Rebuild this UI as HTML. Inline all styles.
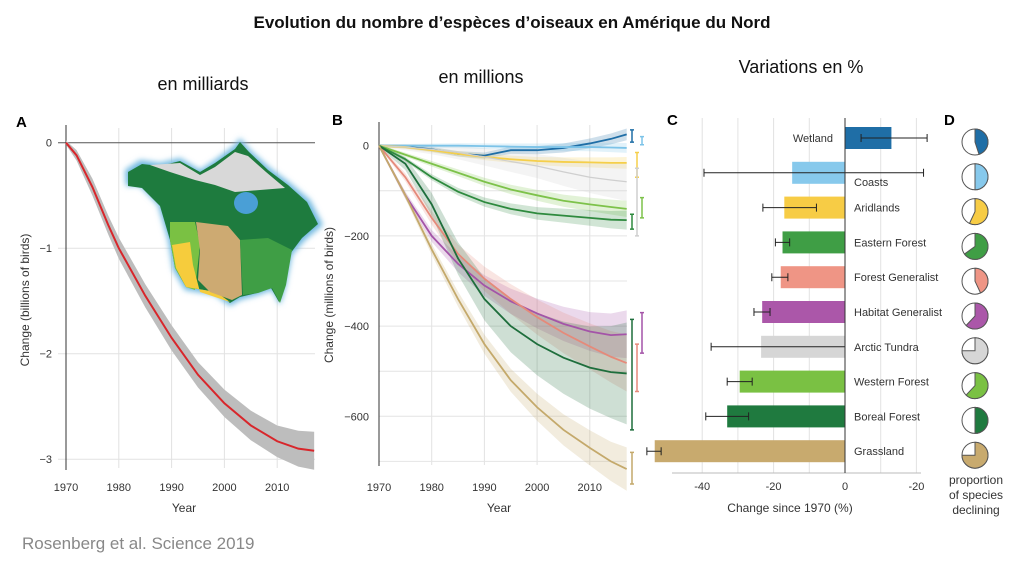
<!DOCTYPE html>
<html><head><meta charset="utf-8">
<style>
html,body{margin:0;padding:0;background:#fff;}
body{width:1024px;height:565px;overflow:hidden;font-family:"Liberation Sans",sans-serif;}
svg text{font-family:"Liberation Sans",sans-serif;}
</style></head>
<body>
<svg id="fig" width="1024" height="565" viewBox="0 0 1024 565" xmlns="http://www.w3.org/2000/svg">
<text x="512" y="28" text-anchor="middle" font-size="17" font-weight="bold" fill="#111">Evolution du nombre d’espèces d’oiseaux en Amérique du Nord</text>
<text x="203" y="90" text-anchor="middle" font-size="18" fill="#111">en milliards</text>
<text x="481" y="83" text-anchor="middle" font-size="18" fill="#111">en millions</text>
<text x="801" y="73" text-anchor="middle" font-size="18" fill="#111">Variations en %</text>
<text x="22" y="549" font-size="17" fill="#888">Rosenberg et al. Science 2019</text>
<text x="16" y="127" font-size="15" font-weight="bold">A</text>
<text x="332" y="125" font-size="15" font-weight="bold">B</text>
<text x="667" y="125" font-size="15" font-weight="bold">C</text>
<text x="944" y="125" font-size="15" font-weight="bold">D</text>
<g id="pa"></g>
<g id="map">
  <defs><filter id="glow"><feGaussianBlur stdDeviation="3"/></filter></defs>
  <path d="M125,170 L140,160 L160,163 L180,158 L200,170 L215,160 L235,145 L240,138 L250,150 L270,168 L290,183 L310,200 L323,225 L305,240 L292,255 L286,285 L280,305 L272,290 L258,295 L240,300 L230,306 L215,295 L185,290 L173,270 L168,240 L158,205 L140,186 L126,186 Z" fill="#6fb8e0" filter="url(#glow)"/>
  <path d="M128,172 L142,164 L160,166 L180,161 L200,172 L215,163 L235,149 L240,142 L249,152 L268,170 L288,185 L307,202 L318,224 L302,238 L290,254 L284,284 L279,302 L271,288 L257,293 L240,297 L230,303 L216,292 L186,287 L175,268 L170,240 L160,206 L142,188 L128,186 Z" fill="#1e7b3e"/>
  <path d="M150,165 L180,163 L200,175 L215,167 L235,152 L248,156 L266,172 L285,188 L260,190 L235,192 L215,185 L195,180 L170,172 Z" fill="#d8d8d8"/>
  <ellipse cx="246" cy="203" rx="12" ry="11" fill="#4a9fd6"/>
  <path d="M170,222 L195,222 L200,245 L195,290 L186,287 L175,268 L170,240 Z" fill="#7ac143"/>
  <path d="M172,245 L190,242 L193,265 L200,292 L230,302 L216,292 L186,287 L176,268 Z" fill="#f6cc3c"/>
  <path d="M196,222 L228,226 L240,240 L242,295 L232,300 L210,292 L198,280 L200,250 Z" fill="#cdaa72"/>
  <path d="M240,240 L268,238 L292,250 L286,285 L280,303 L272,288 L258,293 L243,295 Z" fill="#3f9e45"/>
</g>
<g id="pb"></g>
<g id="pc"></g>
<g id="pd"></g>
<text x="976" y="484" text-anchor="middle" font-size="12" fill="#333">proportion</text>
<text x="976" y="499" text-anchor="middle" font-size="12" fill="#333">of species</text>
<text x="976" y="514" text-anchor="middle" font-size="12" fill="#333">declining</text>
</svg>
<script>
const NS="http://www.w3.org/2000/svg";
// ---- Panel A data
const aYears=[1970,1972,1975,1978,1980,1985,1990,1995,2000,2005,2010,2014,2017];
const aValues=[0,-0.12,-0.42,-0.78,-1.0,-1.45,-1.85,-2.2,-2.47,-2.68,-2.83,-2.9,-2.92];
const aBand=[0.02,0.05,0.08,0.09,0.1,0.11,0.12,0.12,0.13,0.14,0.15,0.17,0.18];
const aXTicks=[1970,1980,1990,2000,2010];
const aYTicks=[0,-1,-2,-3];
// ---- Panel B data
const bYears=[1970,1975,1980,1985,1990,1995,2000,2005,2010,2014,2017];
const bNames=["wetland","coasts","aridlands","arctic-tundra","western-forest","eastern-forest","habitat-generalist","forest-generalist","boreal-forest","grassland"];
const bColors=["#1f6ea6","#7cc3e8","#f5cf4a","#cfcfcf","#7dc24a","#2e8a3e","#a454a8","#e58a7a","#1e6e3c","#c4a96b"];
const bWetland=[0,-2,-8,-18,-22,-10,-10,-5,5,15,25];
const bCoasts=[0,0,0,0,-1,-2,-3,-3,-3,-4,-5];
const bArid=[0,-3,-10,-18,-25,-30,-34,-36,-37,-38,-38];
const bArctic=[0,-3,-8,-15,-25,-35,-45,-58,-70,-76,-80];
const bWestern=[0,-20,-40,-60,-80,-97,-110,-122,-130,-136,-140];
const bEastern=[0,-30,-70,-102,-125,-140,-150,-155,-160,-164,-165];
const bHabitat=[0,-110,-200,-262,-310,-345,-372,-395,-412,-420,-418];
const bForestGen=[0,-70,-160,-240,-295,-340,-380,-415,-445,-468,-482];
const bBoreal=[0,-40,-130,-250,-340,-400,-440,-470,-492,-502,-505];
const bGrass=[0,-110,-230,-340,-440,-520,-580,-630,-670,-700,-717];
const bSeries=[bWetland,bCoasts,bArid,bArctic,bWestern,bEastern,bHabitat,bForestGen,bBoreal,bGrass];
const bBandW=[10,8,10,40,15,18,50,60,110,45];
const bErrLo=[8,2,-15,-50,-115,-152,-370,-440,-385,-680];
const bErrHi=[35,20,-70,-200,-160,-185,-460,-545,-630,-750];
const bErrCol=[0,2,1,1,2,0,2,1,0,0];
const bXTicks=[1970,1980,1990,2000,2010];
const bYTicks=[0,-200,-400,-600];
// ---- Panel C data
const cCats=["Wetland","Coasts","Aridlands","Eastern Forest","Forest Generalist","Habitat Generalist","Arctic Tundra","Western Forest","Boreal Forest","Grassland"];
const cColors=["#1f6ea6","#87c9ec","#f7cc45","#3f9e45","#ef9585","#ab57a9","#d6d6d6","#7ac143","#1f7a3f","#c8aa6e"];
const cValues=[13,-14.8,-17,-17.5,-18,-23.2,-23.5,-29.5,-33,-53.3];
const cErrLo=[4.5,-39.5,-23,-19.5,-20.5,-25.5,-37.5,-33,-39,-55.5];
const cErrHi=[23,22,-8,-15.5,-16,-21,0,-26,-27,-51.5];
const cTickVals=[-40,-20,0,20];
const cTickLabels=["-40","-20","0","-20"];
// ---- Panel D data
const dFractions=[0.45,0.5,0.57,0.65,0.43,0.62,0.75,0.62,0.5,0.75];

function el(tag,attrs,parent,txt){const e=document.createElementNS(NS,tag);for(const k in attrs)e.setAttribute(k,attrs[k]);if(txt!==undefined)e.textContent=txt;parent.appendChild(e);return e;}

// Panel A
const pa=document.getElementById('pa');
const ax=y=>66+(y-1970)*5.28, ay=v=>142.7-v*105.5;
aXTicks.slice(1).forEach(t=>{const l=el('line',{x1:ax(t),x2:ax(t),y1:128,y2:468,stroke:'#e2e2e2','stroke-width':1},pa);});
aYTicks.slice(1).forEach(t=>{const l=el('line',{x1:58,x2:315,y1:ay(t),y2:ay(t),stroke:'#e2e2e2'},pa);});
{const l=el('line',{x1:58,x2:315,y1:ay(0),y2:ay(0),stroke:'#555'},pa);}
{const l=el('line',{x1:66,x2:66,y1:125,y2:470,stroke:'#333'},pa);}
{let up=aYears.map((y,i)=>ax(y)+','+ay(aValues[i]+aBand[i])),dn=aYears.map((y,i)=>ax(y)+','+ay(aValues[i]-aBand[i])).reverse();
const p=el('polygon',{points:up.concat(dn).join(' '),fill:'#bdbdbd'},pa);
const l=el('polyline',{points:aYears.map((y,i)=>ax(y)+','+ay(aValues[i])).join(' '),fill:'none',stroke:'#d8262b','stroke-width':2},pa);}
aXTicks.forEach(t=>{const e=el('text',{x:ax(t),y:491,'text-anchor':'middle','font-size':11,fill:'#333'},pa,t);});
aYTicks.forEach(t=>{const e=el('text',{x:52,y:ay(t)+4,'text-anchor':'end','font-size':11,fill:'#333'},pa,t===0?'0':'−'+(-t));});
{const e=el('text',{x:184,y:512,'text-anchor':'middle','font-size':12,fill:'#333'},pa,'Year');
const f=el('text',{x:0,y:0,'text-anchor':'middle','font-size':12,fill:'#333',transform:'translate(29,300) rotate(-90)'},pa,'Change (billions of birds)');}

// Panel B
const pb=document.getElementById('pb');
const bx=y=>379+(y-1970)*5.27, by=v=>145.7-v*0.451;
bXTicks.slice(1).forEach(t=>{const l=el('line',{x1:bx(t),x2:bx(t),y1:125,y2:465,stroke:'#e2e2e2'},pb);});
[-100,-200,-300,-400,-500,-600,-700].forEach(t=>{const l=el('line',{x1:379,x2:627,y1:by(t),y2:by(t),stroke:'#e4e4e4'},pb);});
{const l=el('line',{x1:379,x2:379,y1:122,y2:466,stroke:'#333'},pb);}
bSeries.forEach((s,k)=>{
  const w=bYears.map((y,i)=>bBandW[k]*(i/(bYears.length-1))+3);
  const up=bYears.map((y,i)=>bx(y)+','+by(s[i]+w[i])), dn=bYears.map((y,i)=>bx(y)+','+by(s[i]-w[i])).reverse();
  const p=el('polygon',{points:up.concat(dn).join(' '),fill:bColors[k],'fill-opacity':0.22},pb);
  
  
});
bSeries.forEach((s,k)=>{
  const l=el('polyline',{points:bYears.map((y,i)=>bx(y)+','+by(s[i])).join(' '),fill:'none',stroke:bColors[k],'stroke-width':k==3?1.2:1.8},pb);
  
  
  const ex=632+bErrCol[k]*5;
  const e=el('path',{d:`M${ex},${by(bErrLo[k])}V${by(bErrHi[k])}M${ex-2},${by(bErrLo[k])}h4M${ex-2},${by(bErrHi[k])}h4`,stroke:bColors[k],'stroke-width':1.5,fill:'none'},pb);
  
  
});
bXTicks.forEach(t=>{const e=el('text',{x:bx(t),y:491,'text-anchor':'middle','font-size':11,fill:'#333'},pb,t);});
bYTicks.forEach(t=>{const e=el('text',{x:369,y:by(t)+4,'text-anchor':'end','font-size':11,fill:'#333'},pb,t===0?'0':'−'+(-t));});
{const e=el('text',{x:499,y:512,'text-anchor':'middle','font-size':12,fill:'#333'},pb,'Year');
const f=el('text',{x:0,y:0,'text-anchor':'middle','font-size':12,fill:'#333',transform:'translate(333,295) rotate(-90)'},pb,'Change (millions of birds)');}

// Panel C
const pc=document.getElementById('pc');
const cx=v=>845+v*3.57, cy=i=>138+i*34.8;
[-40,-30,-20,-10,10,20].forEach(t=>{const l=el('line',{x1:cx(t),x2:cx(t),y1:118,y2:473,stroke:'#e2e2e2'},pc);});
{const l=el('line',{x1:672,x2:921,y1:473,y2:473,stroke:'#bbb'},pc);}
cCats.forEach((c,i)=>{
  const v=cValues[i],x0=Math.min(cx(0),cx(v));
  const r=el('rect',{x:x0,y:cy(i)-11,width:Math.abs(cx(v)-cx(0)),height:22,fill:cColors[i]},pc);
  
  
  const e=el('path',{d:`M${cx(cErrLo[i])},${cy(i)}H${cx(cErrHi[i])}M${cx(cErrLo[i])},${cy(i)-4}v8M${cx(cErrHi[i])},${cy(i)-4}v8`,stroke:'#222','stroke-width':1,fill:'none'},pc);
  
  
  let tx=854,ty=cy(i)+4,anc='start';
  if(i===0){tx=833;anc='end';} if(i===1){ty=cy(i)+13;}
  const t=el('text',{x:tx,y:ty,'text-anchor':anc,'font-size':11,fill:'#333'},pc,c);
  
  
});
{const l=el('line',{x1:845,x2:845,y1:118,y2:473,stroke:'#333'},pc);}
cTickVals.forEach((t,i)=>{const e=el('text',{x:cx(t),y:490,'text-anchor':'middle','font-size':11,fill:'#333'},pc,cTickLabels[i]);});
{const e=el('text',{x:790,y:512,'text-anchor':'middle','font-size':12,fill:'#333'},pc,'Change since 1970 (%)');}

// Panel D
const pd=document.getElementById('pd');
dFractions.forEach((f,i)=>{
  const X=975,Y=cy(i)+4,R=13,a=f*2*Math.PI;
  const c=el('circle',{cx:X,cy:Y,r:R,fill:'#fff',stroke:'#555','stroke-width':1},pd);
  
  
  const ex=X+R*Math.sin(a),ey=Y-R*Math.cos(a);
  const p=el('path',{d:`M${X},${Y}L${X},${Y-R}A${R},${R} 0 ${f>0.5?1:0} 1 ${ex},${ey}Z`,fill:cColors[i],stroke:'#555','stroke-width':1},pd);
  
  
});
</script>
</body></html>
